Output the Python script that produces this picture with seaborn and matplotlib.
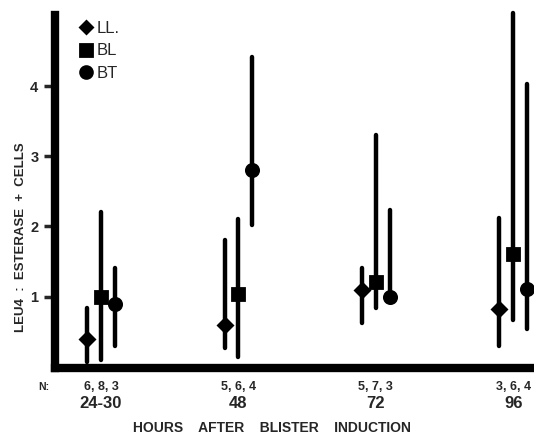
import pandas as pd
import matplotlib
matplotlib.use("Agg")
import matplotlib.pyplot as plt
import seaborn as sns

hours = ["24-30", "48", "72", "96"]
groups = ["LL.", "BL", "BT"]
n_counts = ["6, 8, 3", "5, 6, 4", "5, 7, 3", "3, 6, 4"]

# point value, lower end, upper end of each bar
ll_mid = [0.40, 0.59, 1.09, 0.82]
ll_low = [0.07, 0.27, 0.62, 0.29]
ll_high = [0.84, 1.81, 1.40, 2.12]

bl_mid = [1.00, 1.04, 1.21, 1.61]
bl_low = [0.10, 0.14, 0.84, 0.67]
bl_high = [2.20, 2.10, 3.31, 5.05]

bt_mid = [0.90, 2.80, 1.00, 1.11]
bt_low = [0.30, 2.02, 0.95, 0.54]
bt_high = [1.40, 4.42, 2.24, 4.03]

series = {
    "LL.": (ll_low, ll_mid, ll_high),
    "BL": (bl_low, bl_mid, bl_high),
    "BT": (bt_low, bt_mid, bt_high),
}

rows = []
for g, (lo, mid, hi) in series.items():
    for h, a, b, c in zip(hours, lo, mid, hi):
        for v in (a, b, c):
            rows.append({"hours": h, "group": g, "value": v})
df = pd.DataFrame(rows)

sns.set_style("white")
plt.rcParams["font.family"] = ["Liberation Sans", "DejaVu Sans"]

fig = plt.figure(figsize=(5.34, 4.36), dpi=100)
ax = fig.add_axes([0.103, 0.156, 0.889, 0.81])

# median of (low, mid, high) gives the point, 100% interval gives the bar
sns.pointplot(
    data=df, x="hours", y="value", hue="group", order=hours, hue_order=groups,
    estimator="median", errorbar=("pi", 100), dodge=0.2,
    palette={g: "black" for g in groups}, markers=["D", "s", "o"],
    linestyle="none", markersize=8.8, err_kws={"linewidth": 3.2},
    ax=ax,
)
for ln in ax.lines:
    ln.set_clip_on(False)
    if ln.get_marker() == "D":
        ln.set_markersize(6.8)

ax.set_xlim(-0.335, 3.12)
ax.set_ylim(-0.02, 5.02)
ax.set_yticks([1, 2, 3, 4])
ax.set_yticklabels(["1", "2", "3", "4"], fontsize=10.5, fontweight="bold")
ax.tick_params(axis="y", direction="out", length=8, width=2.5, pad=4, left=True)
ax.tick_params(axis="x", length=0, pad=20)
ax.set_xticklabels(hours, fontsize=12, fontweight="bold")

for side in ["top", "right"]:
    ax.spines[side].set_visible(False)
for side in ["left", "bottom"]:
    ax.spines[side].set_linewidth(6)
    ax.spines[side].set_color("black")

ax.set_xlabel("HOURS    AFTER    BLISTER    INDUCTION", fontsize=10, fontweight="bold")
ax.xaxis.set_label_coords(0.457, -0.15)
ax.set_ylabel("LEU4  :  ESTERASE  +  CELLS", fontsize=9.5, fontweight="bold")
ax.yaxis.set_label_coords(-0.058, 0.37)

for i, n in enumerate(n_counts):
    ax.text(i, -0.055, n, transform=ax.get_xaxis_transform(), ha="center", va="center",
            fontsize=9, fontweight="bold")
ax.text(-0.42, -0.055, "N:", transform=ax.get_xaxis_transform(), ha="center", va="center",
        fontsize=7.5, fontweight="bold", clip_on=False)

leg = ax.legend(loc="upper left", bbox_to_anchor=(0.014, 1.025), frameon=False, fontsize=12,
                handletextpad=0.1, labelspacing=0.45, handlelength=1.1)
for h in leg.legend_handles:
    h.set_markersize(6.5 if h.get_marker() == "D" else 8.5)

fig.savefig("out.png", dpi=100)
